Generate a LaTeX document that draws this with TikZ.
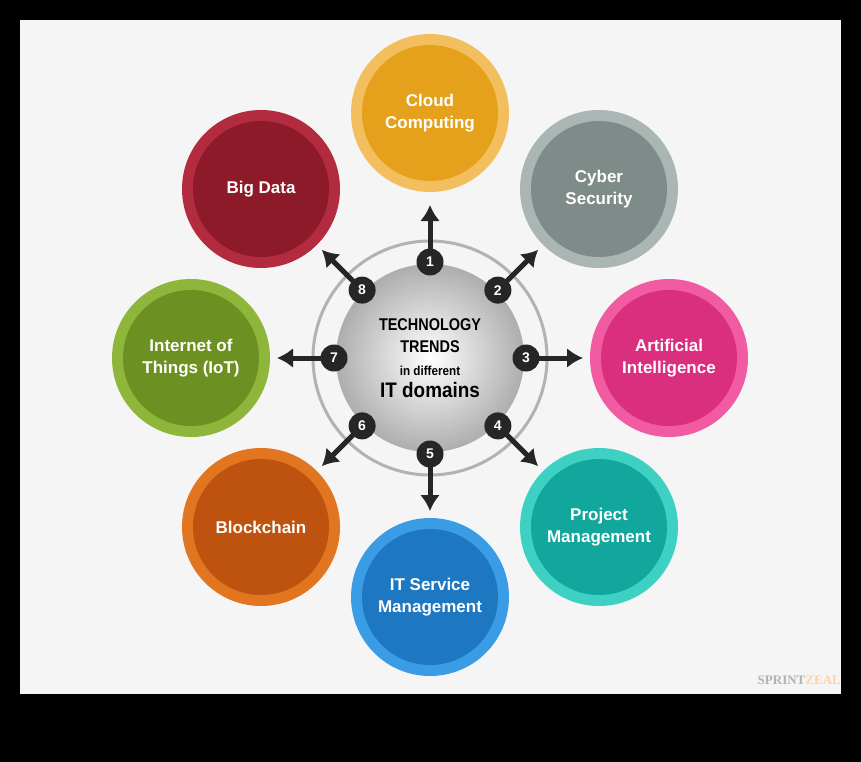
\documentclass[tikz,border=0pt]{standalone}
\usepackage{fontspec}
\setmainfont{Liberation Sans}
\newfontfamily\wm{Liberation Serif}
\usetikzlibrary{arrows.meta,calc}
\begin{document}
\begin{tikzpicture}[x=1pt,y=-1pt,
  badge/.style={circle,fill=black!85,minimum size=27pt,inner sep=0pt,text=white,font=\bfseries\fontsize{14}{14}\selectfont},
  arr/.style={line width=5pt,black!85,-{Latex[length=16pt,width=20pt]}},
  lbl/.style={text=white,align=center,font=\bfseries\fontsize{17}{22}\selectfont}]
\fill[black] (0,0) rectangle (861,762);
\fill[black!4] (20,20) rectangle (841,694);
\coordinate (c) at (430,358);
\draw[black!30,line width=3pt] (c) circle (117);
\shade[inner color=white,outer color=black!32] (c) circle (94);
\node[align=center,font=\bfseries\fontsize{17}{22}\selectfont] (title) at (c) {\scalebox{0.85}[1]{TECHNOLOGY}\\\scalebox{0.85}[1]{TRENDS}\\[1pt]{\fontsize{13}{17}\selectfont \scalebox{0.9}[1]{in different}}\\{\fontsize{21}{20}\selectfont \scalebox{0.9}[1]{IT domains}}};
\foreach \i/\a/\r/\t/\col/\rc in {
 1/90/245/{Cloud\\Computing}/E5A11B/F3BF5E,
 2/45/239/{Cyber\\Security}/7E8B88/AAB6B3,
 3/0/239/{Artificial\\Intelligence}/DA2E7E/F05BA2,
 4/-45/239/{Project\\Management}/12A79D/3FD0C4,
 5/-90/239/{IT Service\\Management}/1D77C1/3B9CE6,
 6/-135/239/{Blockchain}/BE530F/E27520,
 7/180/239/{Internet of\\Things (IoT)}/6C9122/8DB63B,
 8/135/239/{Big Data}/8D1A29/B22B3E}{
  \definecolor{in\i}{HTML}{\col}\definecolor{rg\i}{HTML}{\rc}
  \coordinate (o\i) at ($(c)+({\r*cos(\a)},{-\r*sin(\a)})$);
  \fill[rg\i] (o\i) circle (79);
  \fill[in\i] (o\i) circle (68);
  \node[lbl] (t\i) at (o\i) {\t};
  \coordinate (s\i) at ($(c)+({83*cos(\a)},{-83*sin(\a)})$);
  \coordinate (e\i) at ($(c)+({153*cos(\a)},{-153*sin(\a)})$);
  \draw[arr] (s\i) -- (e\i);
  \node[badge] (b\i) at ($(c)+({96*cos(\a)},{-96*sin(\a)})$) {\i};
}
\node[anchor=east,inner sep=0pt,font=\wm\bfseries\fontsize{13}{13}\selectfont] (wm) at (841,680) {\textcolor{black!30}{SPRINT}\textcolor{orange!35}{ZEAL}};
\end{tikzpicture}
\end{document}
